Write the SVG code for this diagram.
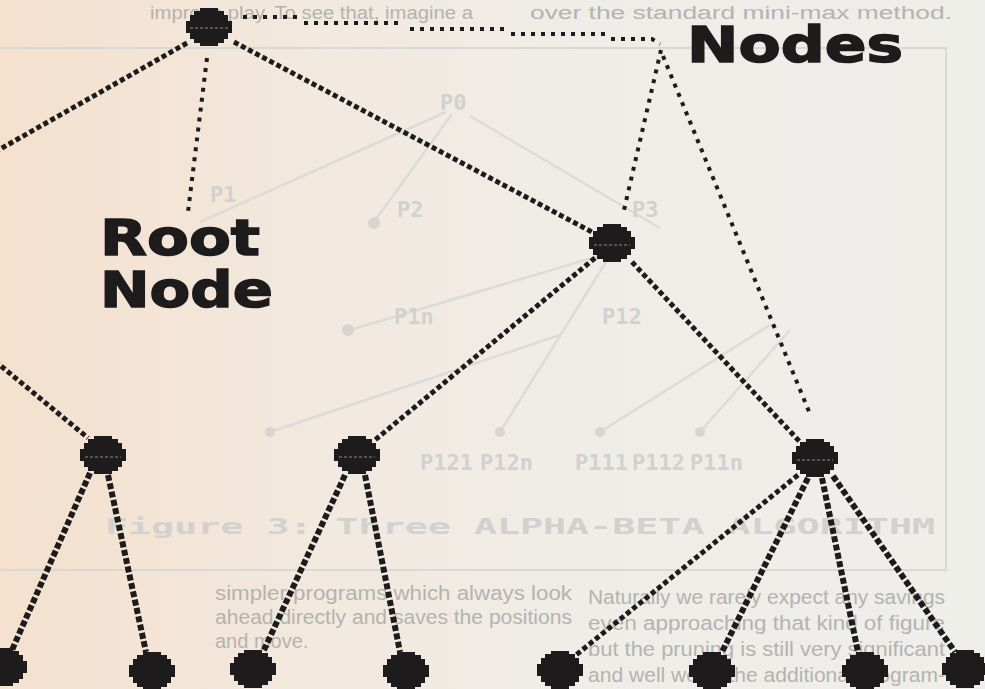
<svg xmlns="http://www.w3.org/2000/svg" width="985" height="689" viewBox="0 0 985 689">
  <defs>
    <linearGradient id="paper" x1="0" y1="0" x2="1" y2="0">
      <stop offset="0" stop-color="#f4e0cd"/>
      <stop offset="0.3" stop-color="#f2e8de"/>
      <stop offset="0.6" stop-color="#efede8"/>
      <stop offset="1" stop-color="#eeeeea"/>
    </linearGradient>
    <path id="blob" d="M-9,-19 H9 V-16 H15 V-12 H19 V-6 H23 V6 H19 V12 H15 V16 H9 V19 H-9 V16 H-15 V12 H-19 V6 H-23 V-6 H-19 V-12 H-15 V-16 H-9 Z"/>
    <style>
      .edge { fill: none; stroke: #1d1b1b; stroke-width: 5; stroke-dasharray: 5 3; }
      .edge2 { fill: none; stroke: #1d1b1b; stroke-width: 6; stroke-dasharray: 6 2.5; }
      .ptr { fill: none; stroke: #1d1b1b; stroke-width: 4; stroke-dasharray: 4 6; }
      .node { fill: #1d1b1b; }
      .gap { stroke: #8c8a88; stroke-width: 1.2; stroke-dasharray: 3 2; }
      .lbl { font-family: "DejaVu Sans", "Liberation Sans", sans-serif; font-weight: bold; font-size: 50px; fill: #1d1b1b; stroke: #1d1b1b; stroke-width: 1.5; }
      .bg { font-family: "Liberation Sans", Arial, sans-serif; font-size: 20px; fill: #b4b3b0; }
      .top { font-size: 18px; }
      .fig { font-family: "DejaVu Sans Mono", "Liberation Mono", monospace; font-weight: bold; font-size: 22px; fill: #d2d1cd; }
      .figline { fill: none; stroke: #dcdbd7; stroke-width: 2.5; }
      .figdot { fill: #d6d5d1; }
      .box { fill: none; stroke: #d9d8d4; stroke-width: 2; }
    </style>
  </defs>

  <!-- paper -->
  <rect x="0" y="0" width="985" height="689" fill="url(#paper)"/>

  <!-- faint printed page showing beneath -->
  <g id="background-page">
    <path class="box" d="M0,48 H946 V570 H0"/>
    <text class="bg top" x="150" y="19" textLength="323" lengthAdjust="spacingAndGlyphs">improve play. To see that, imagine a</text>
    <text class="bg top" x="530" y="19" textLength="422" lengthAdjust="spacingAndGlyphs">over the standard mini-max method.</text>
    <g id="faint-figure">
      <path class="figline" d="M452,114 L374,222 M446,112 L200,222 M470,116 L660,228 M612,252 L350,330 M606,262 L500,432 M790,330 L700,432 M770,325 L600,432 M560,335 L270,432"/>
      <circle class="figdot" cx="374" cy="223" r="6"/>
      <circle class="figdot" cx="348" cy="330" r="6"/>
      <circle class="figdot" cx="270" cy="432" r="5"/>
      <circle class="figdot" cx="500" cy="432" r="5"/>
      <circle class="figdot" cx="600" cy="432" r="5"/>
      <circle class="figdot" cx="700" cy="432" r="5"/>
      <text class="fig" x="440" y="110">P0</text>
      <text class="fig" x="210" y="202">P1</text>
      <text class="fig" x="397" y="217">P2</text>
      <text class="fig" x="632" y="217">P3</text>
      <text class="fig" x="394" y="324">P1n</text>
      <text class="fig" x="602" y="324">P12</text>
      <text class="fig" x="420" y="470">P121</text>
      <text class="fig" x="480" y="470">P12n</text>
      <text class="fig" x="575" y="470">P111</text>
      <text class="fig" x="632" y="470">P112</text>
      <text class="fig" x="690" y="470">P11n</text>
      <text class="fig" x="105" y="534" textLength="830" lengthAdjust="spacingAndGlyphs">Figure 3: Three ALPHA-BETA ALGORITHM</text>
    </g>
    <text class="bg" x="215" y="600" textLength="357" lengthAdjust="spacingAndGlyphs">simpler programs which always look</text>
    <text class="bg" x="215" y="624" textLength="357" lengthAdjust="spacingAndGlyphs">ahead directly and saves the positions</text>
    <text class="bg" x="215" y="648">and move.</text>
    <text class="bg" x="588" y="604" textLength="357" lengthAdjust="spacingAndGlyphs">Naturally we rarely expect any savings</text>
    <text class="bg" x="588" y="630" textLength="357" lengthAdjust="spacingAndGlyphs">even approaching that kind of figure</text>
    <text class="bg" x="588" y="656" textLength="357" lengthAdjust="spacingAndGlyphs">but the pruning is still very significant</text>
    <text class="bg" x="588" y="682" textLength="357" lengthAdjust="spacingAndGlyphs">and well worth the additional program-</text>
  </g>

  <!-- connectors -->
  <g id="connectors">
    <path class="edge" d="M187,43 L-5,152"/>
    <path class="edge" d="M234,42 L592,232"/>
    <path class="edge" d="M-5,361 L88,438"/>
    <path class="edge" d="M595,258 L375,440"/>
    <path class="edge" d="M632,262 L800,442"/>
    <path class="edge2" d="M90,473 L12,650"/>
    <path class="edge2" d="M108,475 L146,652"/>
    <path class="edge2" d="M345,475 L263,652"/>
    <path class="edge2" d="M365,475 L400,652"/>
    <path class="edge" d="M798,475 L576,655"/>
    <path class="edge2" d="M808,478 L722,652"/>
    <path class="edge2" d="M822,478 L858,652"/>
    <path class="edge2" d="M833,476 L955,652"/>
    <!-- pointer lines to labels -->
    <path class="ptr" d="M207,58 L188,212"/>
    <path class="ptr" d="M243,17 H298 M304,23 H404 M410,29 H505 M511,34 H605 M611,39 H652 L660,44"/>
    <path class="ptr" d="M661,50 L624,210"/>
    <path class="ptr" d="M663,56 L810,414"/>
  </g>

  <!-- nodes -->
  <g id="node-root"><use href="#blob" class="node" x="209" y="27"/><line class="gap" x1="190" y1="28" x2="228" y2="28"/></g>
  <g id="node-p1"><use href="#blob" class="node" x="612" y="243"/><line class="gap" x1="594" y1="245" x2="630" y2="245"/></g>
  <g id="node-l"><use href="#blob" class="node" x="103" y="455"/><line class="gap" x1="85" y1="457" x2="121" y2="457"/></g>
  <g id="node-c"><use href="#blob" class="node" x="357" y="455"/><line class="gap" x1="339" y1="457" x2="375" y2="457"/></g>
  <g id="node-r"><use href="#blob" class="node" x="815" y="458"/><line class="gap" x1="797" y1="460" x2="833" y2="460"/></g>
  <g id="leaf-1"><use href="#blob" class="node" x="4" y="667"/></g>
  <g id="leaf-2"><use href="#blob" class="node" x="152" y="671"/></g>
  <g id="leaf-3"><use href="#blob" class="node" x="253" y="669"/></g>
  <g id="leaf-4"><use href="#blob" class="node" x="406" y="671"/></g>
  <g id="leaf-5"><use href="#blob" class="node" x="560" y="670"/></g>
  <g id="leaf-6"><use href="#blob" class="node" x="712" y="671"/></g>
  <g id="leaf-7"><use href="#blob" class="node" x="865" y="671"/></g>
  <g id="leaf-8"><use href="#blob" class="node" x="965" y="669"/></g>

  <!-- labels -->
  <g id="label-root-node">
    <text class="lbl"><tspan x="100" y="255" textLength="160" lengthAdjust="spacingAndGlyphs">Root</tspan><tspan x="100" y="307" textLength="173" lengthAdjust="spacingAndGlyphs">Node</tspan></text>
  </g>
  <g id="label-nodes">
    <text class="lbl" x="687" y="62" textLength="216" lengthAdjust="spacingAndGlyphs">Nodes</text>
  </g>
</svg>
